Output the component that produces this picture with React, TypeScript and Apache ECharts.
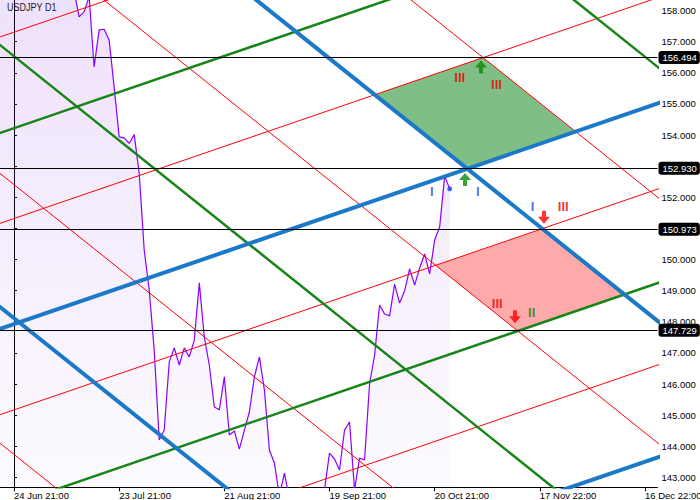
import React, { useEffect, useRef } from 'react';
import * as echarts from 'echarts';

const FONT = '"Liberation Sans", Arial, sans-serif';

// x unit = daily bar index (0 = 24 Jun bar)
const xTickBars = [0, 21, 42, 63, 84, 105, 126];
const xTickLabels = ['24 Jun 21:00', '23 Jul 21:00', '21 Aug 21:00', '19 Sep 21:00', '20 Oct 21:00', '17 Nov 22:00', '16 Dec 22:00'];
const yTicks = [143, 144, 145, 146, 147, 148, 149, 150, 151, 152, 153, 154, 155, 156, 157, 158];
// 151 and 153 labels sit fully under the level tags in the reference
const yLabelValues = [143, 144, 145, 146, 147, 148, 149, 150, 152, 154, 155, 156, 157, 158];

const priceStartBar = -4;
const closes = [
  159.4, 159.6, 159.9, 160.2, 159.7, 159.6, 160.4, 160.8, 160.9, 161.4, 161.5, 161.7, 160.8, 160.9, 161.3, 161.6,
  158.63, 157.8, 157.96, 158.45, 156.19, 157.38, 157.4, 157.05, 155.54, 153.94,
  153.91, 153.73, 154.02, 152.77, 150.31, 149.02, 147.09, 144.2, 144.52, 146.71,
  147.16, 146.61, 147.16, 146.87, 147.41, 149.25, 147.51, 146.61, 145.26, 145.17,
  146.23, 144.36, 144.49, 143.91, 144.52, 145.1, 146.23, 146.87, 145.81, 143.88,
  143.46, 142.4, 143.14, 142.3, 141.9, 141.6, 141.7, 141.5, 141.9, 142.3,
  142.6, 143.78, 143.59, 143.24, 144.52, 144.78, 142.6, 143.62, 143.56, 146.0,
  146.93, 148.54, 148.25, 148.19, 149.21, 148.6, 148.99, 149.7, 149.18, 149.73,
  150.18, 149.54, 150.63, 151.05, 152.68, 152.27,
];

// [bar1, price1, bar2, price2]
const redLines = [
  [-4, 157.085, 131, 164.536],
  [-4, 151.098, 131, 158.55],
  [-4, 144.948, 131, 152.399],
  [-4, 139.296, 131, 146.747],
  [-4, 144.253, 131, 126.874],
  [-4, 152.923, 131, 135.543],
  [-4, 161.168, 131, 143.789],
  [-4, 169.063, 131, 151.683],
];
const greenLines = [
  [-4, 154.0, 131, 161.451],
  [-4, 141.93, 131, 149.382],
  [-4, 157.049, 131, 139.669],
  [-4, 173.251, 131, 155.871],
];
const blueLines = [
  [-4, 147.702, 131, 155.153],
  [-4, 136.329, 131, 143.781],
  [-4, 148.63, 131, 131.25],
  [-4, 165.086, 131, 147.706],
];

const priceLevels = [156.494, 152.93, 150.973, 147.729];

const greenZone = [[72.05, 155.297], [93.67, 156.494], [112.14, 154.11], [90.52, 152.92]];
const redZone = [[84.19, 149.815], [105.49, 150.973], [121.88, 148.88], [100.6, 147.71]];

const greenArrows = [[93.25, 156.19], [90.06, 152.57]];
const redArrows = [[105.83, 151.36], [100.04, 148.16]];

const redNumerals: [number, number, string][] = [
  [89.0, 155.85, 'III'],
  [96.35, 155.64, 'III'],
  [109.68, 151.7, 'III'],
  [96.5, 148.59, 'III'],
];
const blueNumerals: [number, number, string][] = [
  [83.41, 152.18, 'I'],
  [92.59, 152.18, 'I'],
  [103.57, 151.7, 'I'],
];
const greenNumerals: [number, number, string][] = [[103.37, 148.3, 'II']];

const UP_ARROW = 'path://M6,0L12,7L8,7L8,13L4,13L4,7L0,7Z';
const DOWN_ARROW = 'path://M4,0L8,0L8,6L12,6L6,13L0,6L4,6Z';

function lineSeries(lines: number[][], color: string, width: number, z: number) {
  return lines.map((l) => ({
    type: 'line',
    data: [[l[0], l[1]], [l[2], l[3]]],
    showSymbol: false,
    symbol: 'none',
    silent: true,
    clip: true,
    z,
    lineStyle: { color, width },
    emphasis: { disabled: true },
  }));
}

function zoneSeries(pts: number[][], fill: string) {
  return {
    type: 'custom',
    coordinateSystem: 'cartesian2d',
    silent: true,
    clip: true,
    z: 2,
    data: pts,
    encode: { x: 0, y: 1 },
    renderItem: (params: any, api: any) => {
      if (params.dataIndex !== 0) return { type: 'group', children: [] };
      return {
        type: 'polygon',
        shape: { points: pts.map((p) => api.coord(p)) },
        style: { fill, stroke: null },
      };
    },
  };
}

function textSeries(items: [number, number, string][], color: string) {
  return {
    type: 'scatter',
    silent: true,
    z: 6,
    symbolSize: 1,
    itemStyle: { color: 'rgba(0,0,0,0)' },
    data: items.map((t) => ({ value: [t[0], t[1]], name: t[2] })),
    label: {
      show: true,
      position: 'inside',
      formatter: '{b}',
      color,
      fontSize: 13,
      fontWeight: 'bold',
      fontFamily: FONT,
    },
  };
}

export default function App() {
  const ref = useRef<HTMLDivElement>(null);
  useEffect(() => {
    const chart = echarts.init(ref.current as HTMLDivElement, null, { renderer: 'svg' });
    const option: any = {
      animation: false,
      backgroundColor: '#ffffff',
      grid: { left: 0, top: 0, right: 42.5, bottom: 12.7, containLabel: false, outerBoundsMode: 'none' },
      xAxis: {
        type: 'value',
        min: -2.7955,
        max: 128.495,
        axisLine: { show: true, onZero: false, lineStyle: { color: '#000', width: 1 } },
        axisTick: { show: true, length: 4, customValues: xTickBars, lineStyle: { color: '#000' } },
        axisLabel: {
          customValues: xTickBars,
          formatter: (v: number) => {
            const i = xTickBars.indexOf(Math.round(v));
            return i >= 0 ? xTickLabels[i] : '';
          },
          align: 'left',
          margin: 3,
          fontSize: 9.5,
          color: '#000',
          fontFamily: FONT,
          hideOverlap: false,
          showMinLabel: true,
          showMaxLabel: true,
        },
        splitLine: { show: false },
      },
      yAxis: {
        type: 'value',
        position: 'right',
        min: 142.681,
        max: 158.34,
        axisLine: { show: true, lineStyle: { color: '#000', width: 1 } },
        axisTick: { show: true, length: 3, customValues: yTicks, lineStyle: { color: '#000' } },
        axisLabel: {
          customValues: yLabelValues,
          formatter: (v: number) => v.toFixed(3),
          margin: 4,
          fontSize: 9.5,
          color: '#000',
          fontFamily: FONT,
          hideOverlap: false,
          showMinLabel: true,
          showMaxLabel: true,
        },
        splitLine: { show: false },
      },
      graphic: [
        {
          type: 'text',
          x: 7,
          y: 2,
          scaleX: 0.82,
          z: 20,
          style: { text: 'USDJPY D1', fontSize: 11, fontFamily: FONT, fill: '#1a1a1a' },
        },
      ],
      series: [
        {
          type: 'line',
          data: closes.map((c, i) => [i + priceStartBar, c]),
          showSymbol: false,
          symbol: 'none',
          silent: true,
          clip: true,
          z: 1,
          lineStyle: { color: '#8a00ff', width: 1.2 },
          areaStyle: {
            origin: 'start',
            color: {
              type: 'linear',
              x: 0,
              y: 0,
              x2: 0,
              y2: 487,
              global: true,
              colorStops: [
                { offset: 0, color: 'rgba(138,43,226,0.2)' },
                { offset: 1, color: 'rgba(138,43,226,0.03)' },
              ],
            },
          },
          emphasis: { disabled: true },
        },
        zoneSeries(greenZone, '#7fbf85'),
        zoneSeries(redZone, '#ffaaaa'),
        ...lineSeries(redLines, '#ff0000', 1, 3),
        ...lineSeries(greenLines, '#178517', 2.5, 3),
        ...lineSeries(blueLines, '#1c79c8', 4, 3),
        {
          type: 'line',
          data: [],
          clip: false,
          silent: true,
          z: 4,
          markLine: {
            silent: true,
            animation: false,
            precision: 3,
            symbol: ['none', 'none'],
            lineStyle: { color: '#000', width: 1, type: 'solid' },
            emphasis: { disabled: true },
            label: {
              show: true,
              position: 'end',
              distance: 1,
              formatter: (p: any) => p.name,
              color: '#fff',
              backgroundColor: '#000',
              borderRadius: 3,
              padding: [2, 3, 1, 4],
              fontSize: 9.5,
              fontFamily: FONT,
            },
            data: priceLevels.map((v) => ({ yAxis: v, name: v.toFixed(3) })),
          },
        },
        {
          type: 'scatter',
          silent: true,
          z: 5,
          symbol: UP_ARROW,
          symbolSize: [12, 13],
          itemStyle: { color: '#0a8a0a' },
          data: greenArrows,
        },
        {
          type: 'scatter',
          silent: true,
          z: 5,
          symbol: DOWN_ARROW,
          symbolSize: [12, 13],
          itemStyle: { color: '#ff0000' },
          data: redArrows,
        },
        {
          type: 'scatter',
          silent: true,
          z: 5,
          symbol: 'circle',
          symbolSize: 5,
          itemStyle: { color: '#1a3cff' },
          data: [[closes.length - 1 + priceStartBar, closes[closes.length - 1]]],
        },
        textSeries(redNumerals, '#e60000'),
        textSeries(blueNumerals, '#1f45f0'),
        textSeries(greenNumerals, '#188018'),
      ],
    };
    chart.setOption(option);
    return () => chart.dispose();
  }, []);
  return (
    <div
      ref={ref}
      style={{ position: 'fixed', left: 0, top: 0, width: 700, height: 500, background: '#fff' }}
    />
  );
}
